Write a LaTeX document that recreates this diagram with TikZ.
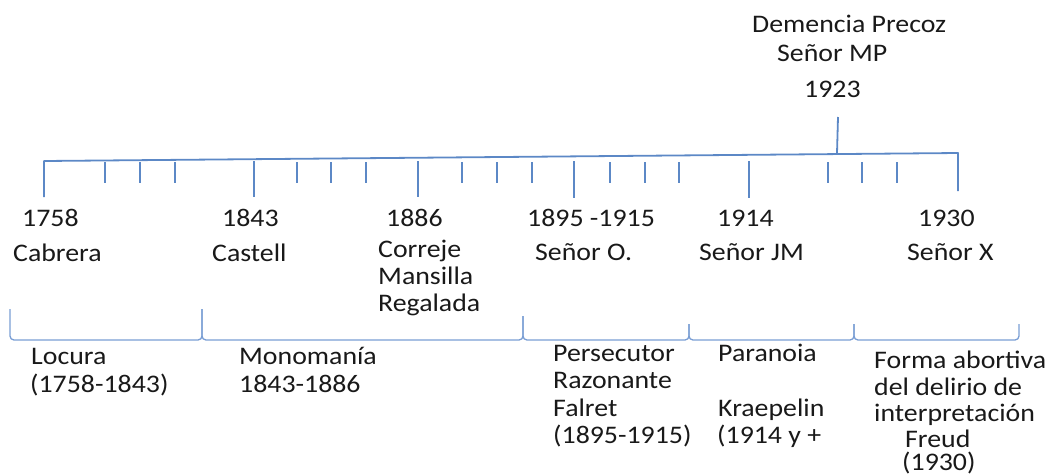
\documentclass[tikz,border=0pt]{standalone}
\usepackage{fontspec}
\setmainfont{Carlito}[FakeStretch=1.1]
\definecolor{axis}{RGB}{92,136,198}
\definecolor{brace}{RGB}{122,158,212}
\definecolor{ink}{RGB}{25,25,25}
\begin{document}
\begin{tikzpicture}[x=1pt,y=-1pt,
  txt/.style={anchor=base west,inner sep=0pt,text=ink,font=\fontsize{25.3}{28}\selectfont},
  axisline/.style={draw=axis,line width=1.8pt,line join=round},
  bigtick/.style={draw=axis,line width=1.8pt},
  smalltick/.style={draw=axis,line width=1.5pt},
  bracepath/.style={draw=brace,line width=1.3pt,rounded corners=4pt}]
\useasboundingbox (0,0) rectangle (1054,475);

% main time axis, slightly rising to the right, closed by the end ticks
\coordinate (axL) at (44,161);
\coordinate (axR) at (958,153);
\draw[axisline] (44,197) -- (axL) -- (axR) -- (958,191);

% long ticks for the dated events
\foreach \x/\b in {254/197, 418/197, 574/198, 749/198}
  \draw[bigtick] (\x,161) -- (\x,\b);
% 1923 tick above the axis
\coordinate (t1923) at (837,153);
\draw[bigtick] (t1923) -- (838,117);

% short ticks
\foreach \x in {105,140,175,297,331,366,462,497,532,610,645,679,828,862,897}
  \draw[smalltick] (\x,162) -- (\x,183);

% period braces below the labels
\draw[bracepath] (10,309) -- (10,340) -- (202,340) -- (202,309);
\draw[bracepath] (202,309) -- (202,340) -- (523,340) -- (523,316);
\draw[bracepath] (523,316) -- (523,340) -- (689,340) -- (689,324);
\draw[bracepath] (689,324) -- (689,340) -- (854,340) -- (854,324);
\draw[bracepath] (854,324) -- (854,340) -- (1019,340) -- (1019,324);

% top label
\node[txt] (dp) at (752,32) {Demencia Precoz};
\node[txt] (smp) at (777,61) {Señor MP};
\node[txt] (y1923) at (804,97) {1923};

% dates and names on the axis
\node[txt] (y1758) at (22,226) {1758};
\node[txt] (cab) at (13,261) {Cabrera};
\node[txt] (y1843) at (222,226) {1843};
\node[txt] (cas) at (212,261) {Castell};
\node[txt] (y1886) at (386,226) {1886};
\node[txt] (cor) at (378,257) {Correje};
\node[txt] (man) at (378,284) {Mansilla};
\node[txt] (reg) at (378,311) {Regalada};
\node[txt] (y1895) at (527,226) {1895 -1915};
\node[txt] (so) at (535,260) {Señor O.};
\node[txt] (y1914) at (717,226) {1914};
\node[txt] (sjm) at (699,260) {Señor JM};
\node[txt] (y1930) at (918,226) {1930};
\node[txt] (sx) at (907,260) {Señor X};

% periods
\node[txt] (loc) at (31,364) {Locura};
\node[txt] (locy) at (30,392) {(1758-1843)};
\node[txt] (mon) at (239,364) {Monomanía};
\node[txt] (mony) at (239,392) {1843-1886};
\node[txt] (per) at (553,361) {Persecutor};
\node[txt] (raz) at (553,388) {Razonante};
\node[txt] (fal) at (553,416) {Falret};
\node[txt] (pery) at (553,443) {(1895-1915)};
\node[txt] (par) at (718,361) {Paranoia};
\node[txt] (kra) at (718,416) {Kraepelin};
\node[txt] (pary) at (717,443) {(1914 y +};
\node[txt] (fa1) at (874,368) {Forma abortiva};
\node[txt] (fa2) at (874,395) {del delirio de};
\node[txt] (fa3) at (874,421) {interpretación};
\node[txt] (fre) at (905,447) {Freud};
\node[txt] (frey) at (902,470) {(1930)};
\end{tikzpicture}
\end{document}
